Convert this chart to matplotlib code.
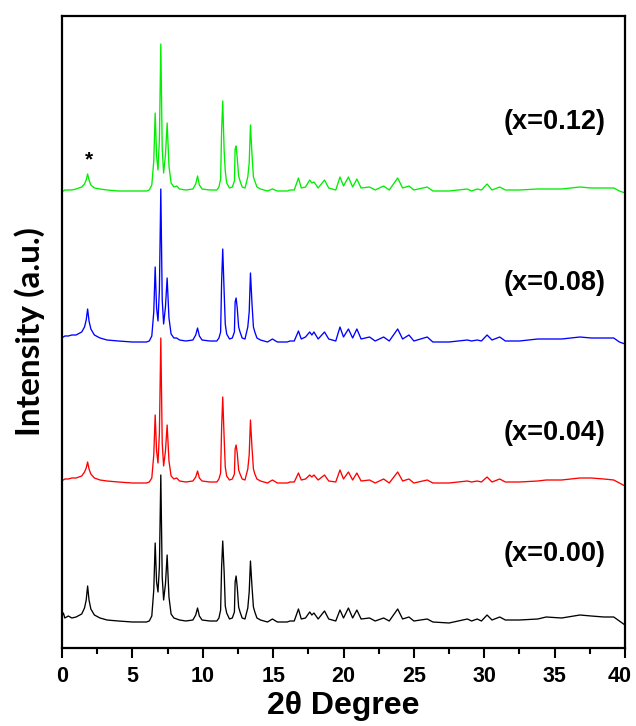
import matplotlib
matplotlib.use("Agg")
import matplotlib.pyplot as plt
from matplotlib.ticker import MultipleLocator
from matplotlib.transforms import ScaledTranslation

# Shared 2-theta grid (degrees)
two_theta = [
    0.0, 0.1, 0.2, 0.45, 0.7, 1.0, 1.4, 1.6, 1.72, 1.82, 1.92, 2.05, 2.3, 2.7, 3.2, 4.0, 5.0,
    6.0, 6.2, 6.38, 6.52, 6.62, 6.72, 6.82, 6.92, 7.02, 7.12, 7.22, 7.35, 7.47, 7.6, 7.75, 7.95, 8.15, 8.35, 8.8,
    9.3, 9.5, 9.63, 9.76, 9.95, 10.5, 11.0,
    11.15, 11.27, 11.34, 11.42, 11.52, 11.6, 11.7, 11.9,
    12.1, 12.25, 12.3, 12.37, 12.45, 12.55, 12.65, 12.8, 13.0,
    13.2, 13.3, 13.39, 13.5, 13.6, 13.7, 13.85, 14.1,
    14.6, 14.95, 15.3, 16.0, 16.2, 16.5, 16.8, 17.0, 17.3, 17.6, 17.75, 17.9, 18.2, 18.65, 18.95, 19.45,
    19.75, 20.0, 20.35, 20.65, 20.95, 21.25, 21.85, 22.25, 22.85, 23.25, 23.85, 24.2, 24.65, 25.0, 25.95, 26.35,
    27.5, 28.8, 29.1, 29.5, 29.8, 30.2, 30.55, 31.1, 31.5, 32.5, 33.8, 34.4, 35.5, 36.8, 37.6, 38.5, 39.2, 39.6, 40.0,
]

# Intensities (a.u.) above each pattern's own baseline
int_000 = [
    6, 9, 4, 6, 4, 5, 8, 14, 22, 36, 22, 13, 7, 4, 2, 1, 0,
    0, 1, 6, 32, 79, 40, 30, 55, 147, 45, 22, 38, 67, 25, 8, 4, 3, 2, 1,
    2, 7, 14, 6, 2, 1, 1,
    4, 12, 55, 81, 50, 16, 9, 3,
    4, 10, 40, 46, 35, 15, 10, 4, 3,
    14, 30, 61, 35, 15, 10, 4, 2,
    0, 3, 0, 0, 1, 1, 13, 3, 4, 10, 7, 9, 3, 11, 3, 1,
    12, 4, 14, 4, 12, 3, 4, 1, 4, 1, 13, 3, 5, 1, 3, 0,
    -1, 3, 1, 3, 1, 7, 2, 5, 2, 2, 3, 5, 4, 7, 6, 5, 5, 1, -3,
]
int_004 = [
    3, 3, 4, 4, 5, 5, 7, 11, 15, 21, 14, 9, 5, 3, 2, 1, 0,
    0, 1, 5, 28, 68, 32, 20, 50, 145, 40, 17, 32, 58, 22, 7, 4, 5, 2, 1,
    2, 6, 12, 5, 2, 1, 1,
    4, 10, 55, 86, 45, 16, 7, 3,
    4, 9, 34, 38, 30, 13, 9, 4, 3,
    14, 28, 63, 35, 14, 9, 4, 2,
    0, 3, 0, 0, 1, 1, 10, 3, 4, 8, 6, 8, 3, 8, 2, 1,
    13, 4, 11, 3, 10, 2, 3, 0, 4, 0, 11, 2, 4, 0, 3, 0,
    0, 2, 1, 2, 1, 6, 1, 4, 1, 1, 2, 3, 3, 5, 5, 4, 3, 0, -3,
]
int_008 = [
    5, 5, 6, 6, 7, 7, 10, 15, 22, 33, 21, 13, 7, 4, 2, 1, 0,
    0, 1, 6, 30, 75, 34, 21, 52, 153, 42, 18, 35, 64, 24, 8, 4, 4, 2, 1,
    2, 7, 14, 6, 2, 1, 1,
    4, 10, 60, 93, 50, 18, 8, 3,
    4, 10, 40, 44, 34, 15, 10, 4, 3,
    15, 30, 69, 38, 15, 10, 4, 2,
    0, 3, 0, 0, 1, 1, 11, 3, 5, 10, 7, 10, 3, 10, 3, 1,
    15, 5, 13, 4, 13, 3, 5, 1, 5, 1, 13, 3, 7, 1, 5, 0,
    0, 2, 1, 2, 1, 7, 2, 5, 1, 1, 3, 3, 3, 5, 4, 4, 4, 0, -2,
]
int_012 = [
    0, 0, 1, 1, 1, 2, 4, 7, 11, 17, 11, 6, 3, 2, 1, 0, 0,
    0, 1, 6, 30, 78, 35, 21, 52, 147, 42, 18, 36, 68, 25, 8, 4, 5, 2, 1,
    2, 7, 15, 6, 2, 1, 1,
    4, 12, 60, 90, 40, 20, 8, 3,
    4, 10, 42, 45, 33, 15, 10, 4, 3,
    14, 28, 66, 36, 14, 10, 4, 2,
    0, 2, 0, 0, 1, 1, 13, 3, 4, 11, 8, 9, 3, 11, 3, 1,
    14, 5, 14, 4, 12, 3, 4, 1, 5, 1, 13, 3, 5, 1, 4, 0,
    0, 2, 0, 2, 1, 7, 1, 4, 1, 1, 2, 2, 2, 4, 3, 3, 3, 0, -2,
]

labels = ["(x=0.00)", "(x=0.04)", "(x=0.08)", "(x=0.12)"]
series = [int_000, int_004, int_008, int_012]
x_ticks = [0, 5, 10, 15, 20, 25, 30, 35, 40]

colors = ["#000000", "#ff0000", "#0000ff", "#00ee00"]
offsets = [26, 165, 306, 457]
label_y = [94, 215, 365, 526]

fig = plt.figure(figsize=(6.36, 7.26), dpi=100)
ax = fig.add_axes([62 / 636, 1 - 648 / 726, (625 - 62) / 636, (648 - 16) / 726])

for ys, c, off, lab, ly in zip(series, colors, offsets, labels, label_y):
    ax.plot(two_theta, [v + off for v in ys], color=c, lw=0.95)
    ax.text(38.6, ly, lab, ha="right", va="center", fontsize=19.5,
            fontweight="bold", family="Liberation Sans")

ax.text(1.95, 488, "*", ha="center", va="center", fontsize=15,
        fontweight="bold", family="Liberation Sans")

ax.set_xlim(0, 40)
ax.set_ylim(0, 632)
ax.set_yticks([])
ax.set_xticks(x_ticks)
ax.set_xticklabels([str(t) for t in x_ticks])
ax.xaxis.set_minor_locator(MultipleLocator(2.5))
ax.tick_params(axis="x", which="major", direction="out", length=7, width=1.5,
               labelsize=15.5, pad=6)
ax.tick_params(axis="x", which="minor", direction="out", length=4, width=1.5)
for lbl in ax.get_xticklabels():
    lbl.set_fontweight("bold")
    lbl.set_family("Liberation Sans")
for sp in ax.spines.values():
    sp.set_linewidth(1.6)

# nudge the last tick label so it stays inside the canvas
last = ax.xaxis.get_major_ticks()[-1].label1
last.set_transform(last.get_transform() + ScaledTranslation(-4 / 72, 0, fig.dpi_scale_trans))

ax.set_xlabel("2θ Degree", fontsize=23, fontweight="bold",
              family="Liberation Sans", labelpad=3)
ax.set_ylabel("Intensity (a.u.)", fontsize=24, fontweight="bold",
              family="Lato", labelpad=12)

fig.savefig("out.png", dpi=100)
